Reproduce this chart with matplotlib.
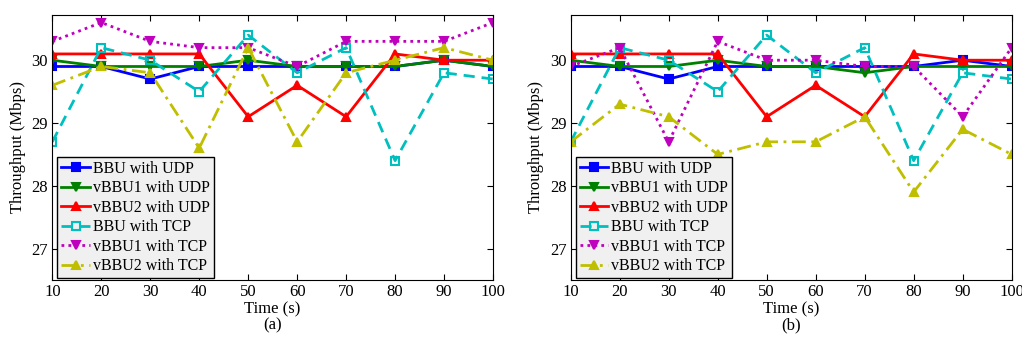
import matplotlib
matplotlib.use("Agg")
import matplotlib.pyplot as plt

plt.rcParams['font.family'] = ['Liberation Serif', 'DejaVu Serif']
plt.rcParams['font.size'] = 12

time_s = [10, 20, 30, 40, 50, 60, 70, 80, 90, 100]
labels = ['BBU with UDP', 'vBBU1 with UDP', 'vBBU2 with UDP',
          'BBU with TCP', 'vBBU1 with TCP', 'vBBU2 with TCP']

# panel (a)
a_bbu_udp = [29.9, 29.9, 29.7, 29.9, 29.9, 29.9, 29.9, 29.9, 30.0, 29.9]
a_vbbu1_udp = [30.0, 29.9, 29.9, 29.9, 30.0, 29.9, 29.9, 29.9, 30.0, 29.9]
a_vbbu2_udp = [30.1, 30.1, 30.1, 30.1, 29.1, 29.6, 29.1, 30.1, 30.0, 30.0]
a_bbu_tcp = [28.7, 30.2, 30.0, 29.5, 30.4, 29.8, 30.2, 28.4, 29.8, 29.7]
a_vbbu1_tcp = [30.3, 30.6, 30.3, 30.2, 30.2, 29.9, 30.3, 30.3, 30.3, 30.6]
a_vbbu2_tcp = [29.6, 29.9, 29.8, 28.6, 30.2, 28.7, 29.8, 30.0, 30.2, 30.0]

# panel (b)
b_bbu_udp = [29.9, 29.9, 29.7, 29.9, 29.9, 29.9, 29.9, 29.9, 30.0, 29.9]
b_vbbu1_udp = [30.0, 29.9, 29.9, 30.0, 29.9, 29.9, 29.8, 29.9, 29.9, 29.9]
b_vbbu2_udp = [30.1, 30.1, 30.1, 30.1, 29.1, 29.6, 29.1, 30.1, 30.0, 30.0]
b_bbu_tcp = [28.7, 30.2, 30.0, 29.5, 30.4, 29.8, 30.2, 28.4, 29.8, 29.7]
b_vbbu1_tcp = [29.9, 30.2, 28.7, 30.3, 30.0, 30.0, 29.9, 29.9, 29.1, 30.2]
b_vbbu2_tcp = [28.7, 29.3, 29.1, 28.5, 28.7, 28.7, 29.1, 27.9, 28.9, 28.5]

styles = [
    dict(color='#0000ff', ls='-', marker='s', mfc='#0000ff'),
    dict(color='#008000', ls='-', marker='v', mfc='#008000'),
    dict(color='#ff0000', ls='-', marker='^', mfc='#ff0000'),
    dict(color='#00bfbf', ls=(0, (4, 2.5)), marker='s', mfc='none'),
    dict(color='#bf00bf', ls=(0, (1, 1.5)), marker='v', mfc='#bf00bf'),
    dict(color='#bfbf00', ls=(0, (5, 2, 1, 2)), marker='^', mfc='#bfbf00'),
]

fig = plt.figure(figsize=(10.22, 3.41), dpi=100)
ax_a = fig.add_axes([0.0512, 0.179, 0.4312, 0.777])
ax_b = fig.add_axes([0.5584, 0.179, 0.4315, 0.777])

panels = [
    (ax_a, [a_bbu_udp, a_vbbu1_udp, a_vbbu2_udp, a_bbu_tcp, a_vbbu1_tcp, a_vbbu2_tcp], '(a)'),
    (ax_b, [b_bbu_udp, b_vbbu1_udp, b_vbbu2_udp, b_bbu_tcp, b_vbbu1_tcp, b_vbbu2_tcp], '(b)'),
]

for ax, series, tag in panels:
    for vals, lab, st in zip(series, labels, styles):
        ax.plot(time_s, vals, label=lab, lw=2, ms=6, mew=1.5, mec=st['color'],
                color=st['color'], ls=st['ls'], marker=st['marker'], mfc=st['mfc'])
    ax.set_xlim(10, 100)
    ax.set_ylim(26.5, 30.72)
    ax.set_xticks(time_s)
    ax.set_yticks([27, 28, 29, 30])
    ax.tick_params(direction='in', top=True, right=True, length=4, pad=3)
    ax.set_xlabel('Time (s)', labelpad=1)
    ax.set_ylabel('Throughput (Mbps)', labelpad=4)
    ax.text(0.5, -0.17, tag, transform=ax.transAxes, ha='center', va='center')
    leg = ax.legend(loc='lower left', bbox_to_anchor=(0.011, 0.006), borderaxespad=0,
                    fancybox=False, edgecolor='black', framealpha=1, fontsize=11.5,
                    handlelength=1.8, handletextpad=0.2, labelspacing=0.22,
                    borderpad=0.25)
    leg.get_frame().set_facecolor('#f0f0f0')
    leg.get_frame().set_linewidth(1.0)

fig.savefig('out.png', dpi=100)
